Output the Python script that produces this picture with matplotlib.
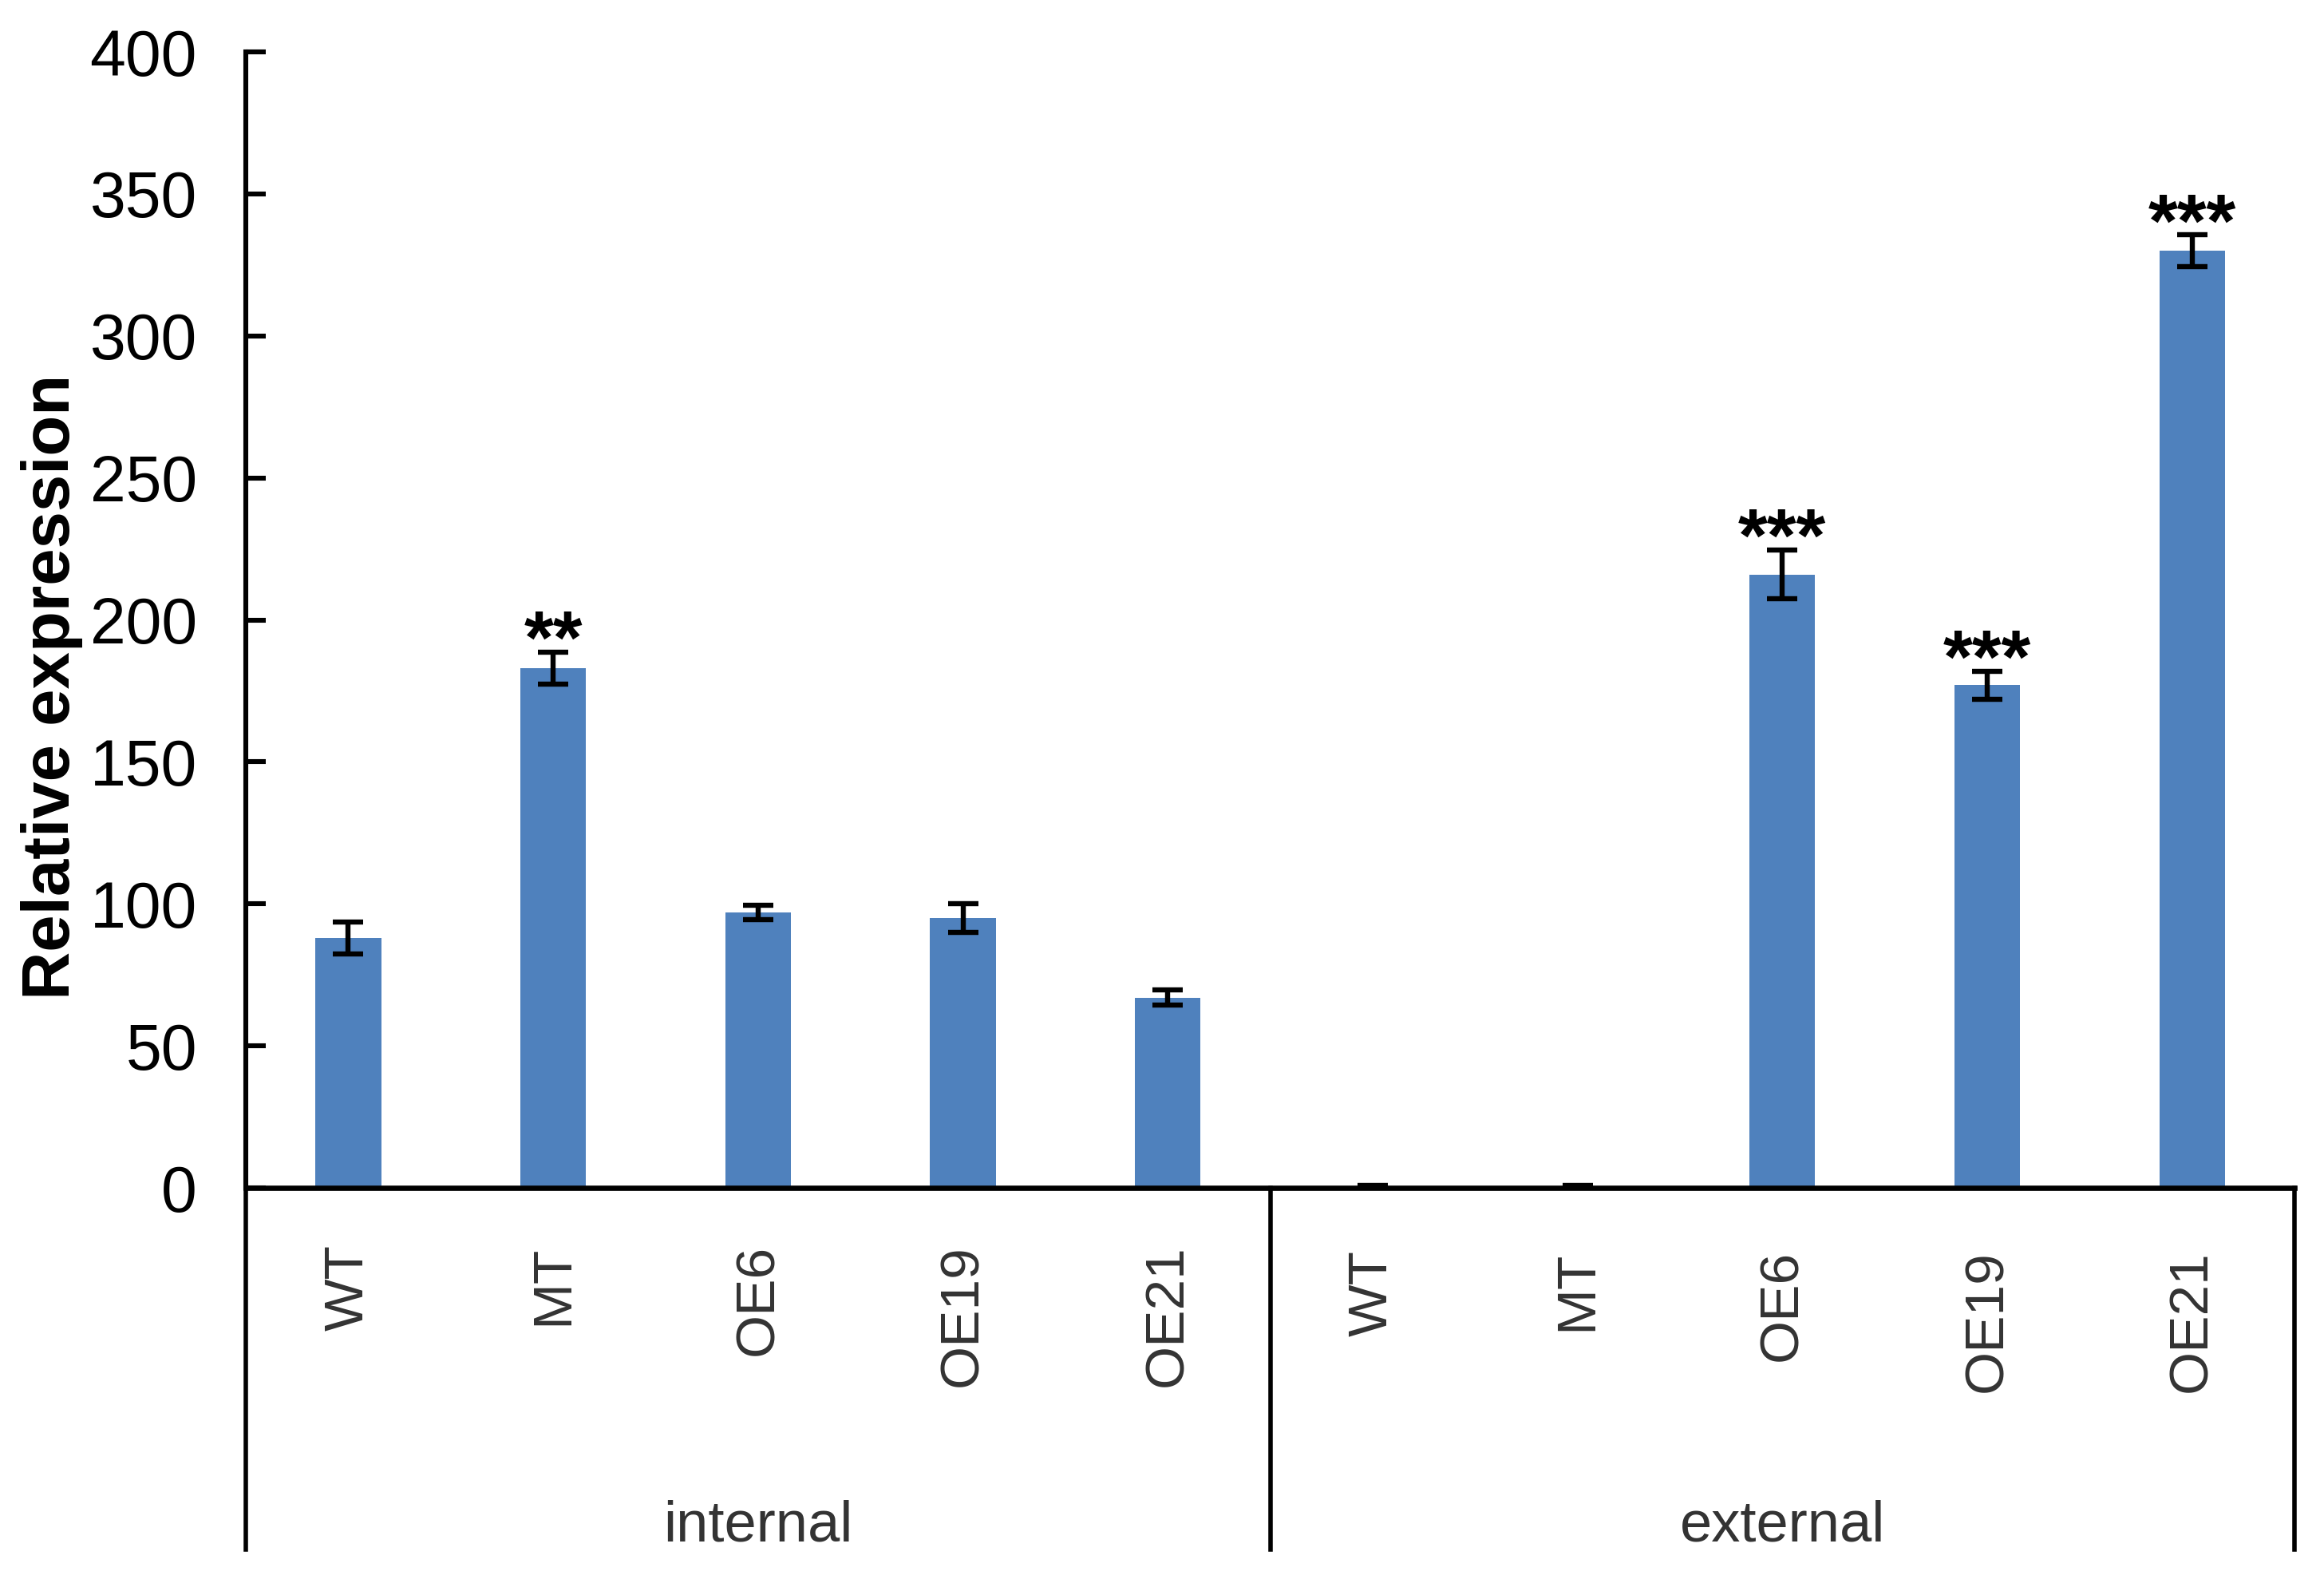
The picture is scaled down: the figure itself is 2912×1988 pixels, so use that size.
import matplotlib
matplotlib.use('Agg')
from matplotlib import pyplot as plt
import matplotlib.transforms as mtransforms

plt.rcParams['font.family'] = ['Liberation Sans', 'DejaVu Sans']

groups = ['internal', 'external']
lines = ['WT', 'MT', 'OE6', 'OE19', 'OE21']
internal_vals = [88, 183, 97, 95, 67]
internal_err = [5.5, 5.7, 2.6, 5, 2.6]
external_vals = [0.5, 0.5, 216, 177, 330]
external_err = [0.3, 0.3, 8.6, 5, 5.5]
internal_stars = ['', '**', '', '', '']
external_stars = ['', '', '***', '***', '***']

values = internal_vals + external_vals
errors = internal_err + external_err
stars = internal_stars + external_stars
x = list(range(len(values)))

fig = plt.figure(figsize=(14.56, 9.94), dpi=200)
ax = fig.add_axes([0.1058, 0.2515, 0.8815, 0.7158])

ax.bar(x, values, width=0.32, color='#4F81BD')
ax.errorbar(x, values, yerr=errors, fmt='none', ecolor='black',
            elinewidth=2.3, capsize=7, capthick=2.3)

for xi, v, e, s in zip(x, values, errors, stars):
    if s:
        ax.text(xi, v + e - 4, s, ha='center', va='baseline',
                fontsize=34, fontweight='bold')

ax.set_xlim(-0.5, 9.5)
ax.set_ylim(0, 400)
ax.set_yticks(range(0, 401, 50))
ax.tick_params(axis='y', direction='in', length=9, width=2.2, labelsize=29, pad=22)
ax.set_xticks([])

for side in ['top', 'right']:
    ax.spines[side].set_visible(False)
ax.spines['left'].set_linewidth(2.2)
ax.spines['bottom'].set_linewidth(2.4)

trans = mtransforms.blended_transform_factory(ax.transData, ax.transAxes)
for xb in [-0.5, 4.5, 9.5]:
    ax.plot([xb, xb], [0, -0.318], transform=trans, color='black',
            lw=2.0, clip_on=False)

for i, xi in enumerate(x):
    lab = lines[i % len(lines)]
    y0 = -0.05 if i < 5 else -0.055
    ax.text(xi, y0, lab, transform=trans, rotation=90, ha='center', va='top',
            fontsize=25, color='#333333')

for g, xg in zip(groups, [2, 7]):
    ax.text(xg, -0.298, g, transform=trans, ha='center', va='center',
            fontsize=26, color='#333333')

fig.text(0.0223, 0.5674, 'Relative expression', rotation=90, ha='center',
         va='center', fontsize=30, fontweight='bold')

plt.savefig('out.png')
